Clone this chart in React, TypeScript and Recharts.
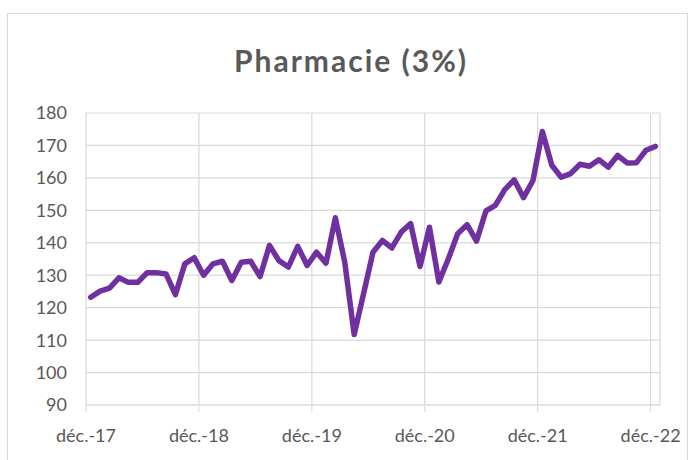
import { LineChart, Line, XAxis, YAxis, CartesianGrid } from 'recharts'

// monthly index, déc.-17 .. déc.-22
const values = [
  123.2, 125.1, 126.0, 129.2, 127.8, 127.8, 130.8, 130.8, 130.4, 124.0, 133.5, 135.4,
  130.0, 133.5, 134.3, 128.4, 134.0, 134.3, 129.6, 139.2, 134.5, 132.5, 138.9, 133.0,
  137.1, 133.7, 147.7, 134.0, 111.7, 124.3, 137.1, 140.7, 138.4, 143.3, 145.9, 132.7,
  144.8, 127.9, 135.0, 142.8, 145.6, 140.5, 149.8, 151.5, 156.4, 159.4, 153.9, 159.2,
  174.3, 163.9, 160.2, 161.3, 164.2, 163.6, 165.6, 163.3, 166.9, 164.6, 164.7, 168.5,
  169.7,
]
const tickLabels = ['déc.-17', 'déc.-18', 'déc.-19', 'déc.-20', 'déc.-21', 'déc.-22']
const yTicks = [90, 100, 110, 120, 130, 140, 150, 160, 170, 180]

const data = values.map((v, i) => ({ i, v }))
// year boundaries sit on the left edge of each december slot
const xTicks = tickLabels.map((_, k) => k * 12 - 0.5)

const font = 'Lato, "Open Sans", sans-serif'
const grey = '#595959'
const gridColor = '#d9d9d9'

export default function App() {
  return (
    <div
      style={{
        position: 'absolute',
        left: 7,
        top: 13,
        width: 679,
        height: 460,
        border: `1px solid ${gridColor}`,
        background: '#fff',
        fontFamily: font,
      }}
    >
      <div
        style={{
          position: 'absolute',
          left: 0,
          top: 30,
          width: 686,
          textAlign: 'center',
          fontSize: 30,
          lineHeight: '32px',
          letterSpacing: 2,
          fontWeight: 700,
          color: grey,
        }}
      >
        Pharmacie (3%)
      </div>
      <LineChart
        width={679}
        height={446}
        data={data}
        margin={{ top: 99, right: 27, left: 18, bottom: 15 }}
      >
        <CartesianGrid stroke={gridColor} strokeWidth={1.2} />
        <XAxis
          dataKey="i"
          type="number"
          domain={[-0.5, 60.5]}
          ticks={xTicks}
          interval={0}
          tickFormatter={(v: number) => tickLabels[Math.round((v + 0.5) / 12)]}
          stroke={gridColor}
          tick={{ fill: grey, fontSize: 18, fontFamily: font }}
          tickSize={7}
          tickMargin={17}
          height={40}
        />
        <YAxis
          domain={[90, 180]}
          ticks={yTicks}
          interval={0}
          axisLine={false}
          tickLine={false}
          tick={{ fill: grey, fontSize: 18, fontFamily: font }}
          tickSize={8}
          tickMargin={11}
          width={60}
        />
        <Line
          type="linear"
          dataKey="v"
          stroke="#7030a0"
          strokeWidth={5.5}
          strokeLinecap="round"
          strokeLinejoin="round"
          dot={false}
          isAnimationActive={false}
        />
      </LineChart>
    </div>
  )
}
